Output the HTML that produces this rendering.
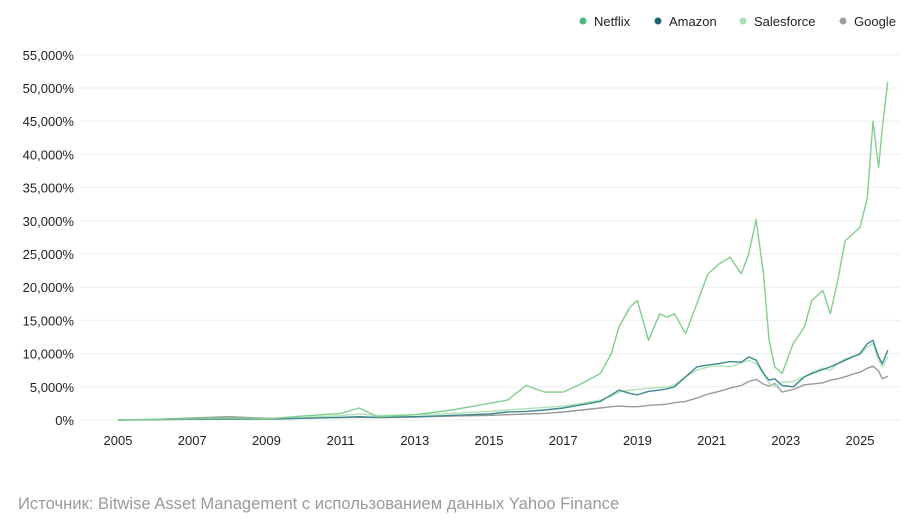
<!DOCTYPE html>
<html><head><meta charset="utf-8"><style>
body{margin:0;background:#fff;width:918px;height:526px;overflow:hidden;font-family:"Liberation Sans",sans-serif}
svg text{font-family:"Liberation Sans",sans-serif}
</style></head><body>
<svg id="c" width="918" height="526"></svg>
<script>
const years=[2005,2006,2007,2008,2009,2010,2011,2011.5,2012,2013,2014,2015,2015.5,2016,2016.5,2017,2017.5,2018,2018.3,2018.5,2018.8,2019,2019.3,2019.6,2019.8,2020,2020.3,2020.6,2020.9,2021.2,2021.5,2021.8,2022,2022.2,2022.4,2022.55,2022.7,2022.9,2023.2,2023.5,2023.7,2024,2024.2,2024.4,2024.6,2024.8,2025,2025.2,2025.35,2025.5,2025.6,2025.75];
const netflix=[0,100,200,300,150,600,1000,1800,500,800,1500,2500,3000,5200,4200,4200,5500,7000,10000,14000,17000,18000,12000,16000,15500,16000,13000,17500,22000,23500,24500,22000,25000,30200,22000,12000,8000,7000,11500,14000,18000,19500,16000,21000,27000,28000,29000,33500,45000,38000,44000,51000];
const amazon=[0,50,100,150,100,250,400,500,400,500,700,900,1200,1300,1500,1800,2300,2800,3800,4500,4000,3800,4300,4500,4700,5000,6500,8000,8300,8500,8800,8700,9500,9000,7000,6000,6200,5200,5000,6500,7000,7600,8000,8500,9000,9500,10000,11500,12000,9500,8500,10500];
const salesforce=[0,80,150,300,150,350,700,900,700,800,1000,1300,1500,1700,1900,2100,2500,3000,3600,4200,4500,4600,4800,4900,5000,5300,6500,7500,8000,8200,8000,8600,9000,8500,7000,5500,5000,5700,5800,6500,7200,7800,7500,8500,9200,9600,9800,11000,11500,9000,8000,9500];
const google=[0,100,300,500,250,300,350,400,350,450,600,700,800,900,1000,1200,1500,1800,2000,2100,2000,2000,2200,2300,2400,2600,2800,3300,3900,4300,4800,5200,5800,6100,5400,5100,5500,4200,4600,5300,5400,5600,6000,6200,6500,6900,7200,7800,8100,7400,6200,6600];
const yTicks=[0,5000,10000,15000,20000,25000,30000,35000,40000,45000,50000,55000];
const xTicks=[2005,2007,2009,2011,2013,2015,2017,2019,2021,2023,2025];
const NS="http://www.w3.org/2000/svg",svg=document.getElementById('c');
const X=v=>118+(v-2005)*37.1, Y=v=>420-v/5000*33.2;
function mk(t,a,p){const e=document.createElementNS(NS,t);for(const k in a)e.setAttribute(k,a[k]);(p||svg).appendChild(e);return e;}
yTicks.forEach(v=>{
 const g=mk('line',{x1:80,x2:900,y1:Y(v),y2:Y(v),stroke:'#eeeeee','stroke-width':1});
 
 
 const t=mk('text',{x:74,y:Y(v)+5,'text-anchor':'end','font-size':13,fill:'#222'});
 t.textContent=v.toLocaleString('en-US')+'%';
 
 
});
xTicks.forEach(v=>{
 const t=mk('text',{x:X(v),y:445,'text-anchor':'middle','font-size':13,fill:'#222'});
 t.textContent=v;
 
 
});
const series=[['google',google,'#9a9a9a'],['salesforce',salesforce,'#b0e2b9'],['amazon',amazon,'#3f8a8e'],['netflix',netflix,'#80cf8f']];
series.forEach(([n,d,c])=>{
 const p=mk('polyline',{points:d.map((v,i)=>X(years[i]).toFixed(1)+','+Y(v).toFixed(1)).join(' '),fill:'none',stroke:c,'stroke-width':1.4,'stroke-linejoin':'round'});
 
 
});
const leg=[['Netflix','#4cb97a',580],['Amazon','#1d6470',655],['Salesforce','#a8e0b3',740],['Google','#999ea3',840]];
leg.forEach(([n,c,x])=>{
 const g=mk('g',{});
 
 
 mk('circle',{cx:x+3,cy:21,r:3.5,fill:c},g);
 const t=mk('text',{x:x+14,y:26,'font-size':13,fill:'#222'},g);t.textContent=n;
});
const s=mk('text',{x:18,y:509,'font-size':16.6,fill:'#9a9a9a'});
s.textContent='Источник: Bitwise Asset Management с использованием данных Yahoo Finance';


</script>
</body></html>
